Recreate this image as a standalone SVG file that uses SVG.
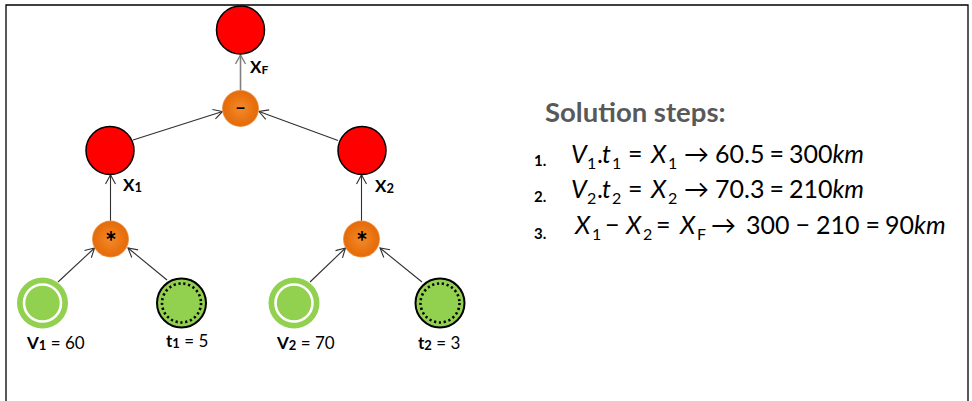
<svg xmlns="http://www.w3.org/2000/svg" width="972" height="401" viewBox="0 0 972 401">
<style>
.red{fill:#FF0000;stroke:#000;stroke-width:1.5}
.op{fill:url(#og)}
.gfill{fill:#92D050}
.ring{fill:none;stroke:#fff;stroke-width:2.6}
.tout{fill:#92D050;stroke:#000;stroke-width:2}
.dots{fill:none;stroke:#000;stroke-width:2.6;stroke-dasharray:2.2 2.7}
.lab{font-family:Lato,"Open Sans",sans-serif;font-size:17px;fill:#000}
.b{font-weight:bold}
.nl{font-family:Lato,"Open Sans",sans-serif;font-size:17px;font-weight:bold;fill:#000}
.sym{font-family:Lato,"Open Sans",sans-serif;font-weight:bold;fill:#000;text-anchor:middle}
.eq{font-family:Lato,"Open Sans",sans-serif;font-size:25px;fill:#000}
.i{font-style:italic}
.sub{font-size:16px}
.num{font-family:Lato,"Open Sans",sans-serif;font-size:15px;font-weight:bold;fill:#000}
.conn{stroke:#303030;stroke-width:1.1;fill:none;marker-end:url(#ah)}
.connv{stroke:#7f7f7f;stroke-width:1.6;fill:none;marker-end:url(#ahg)}
</style>
<defs>
<radialGradient id="og" cx="0.5" cy="0.5" r="0.5">
<stop offset="0" stop-color="#F58A2A"/>
<stop offset="0.75" stop-color="#E8700E"/>
<stop offset="0.92" stop-color="#E46C0A"/>
<stop offset="1" stop-color="#F0A060"/>
</radialGradient>
<marker id="ah" markerUnits="userSpaceOnUse" markerWidth="12" markerHeight="12" refX="10" refY="6" orient="auto" viewBox="0 0 12 12">
<path d="M1,1 L10,6 L1,11" fill="none" stroke="#303030" stroke-width="1.1"/>
</marker>
<marker id="ahg" markerUnits="userSpaceOnUse" markerWidth="12" markerHeight="12" refX="10" refY="6" orient="auto" viewBox="0 0 12 12">
<path d="M1,1 L10,6 L1,11" fill="none" stroke="#7f7f7f" stroke-width="1.4"/>
</marker>
</defs>
<rect width="972" height="401" fill="#fff"/>
<path d="M6,401 V5 H968 V401" fill="none" stroke="#000" stroke-width="1.3"/>

<g id="connectors">
<line class="connv" x1="240.5" y1="90" x2="240.5" y2="55"/>
<line class="conn" x1="133" y1="140" x2="222.5" y2="111.5"/>
<line class="conn" x1="338" y1="140.5" x2="259" y2="111.5"/>
<line class="conn" x1="110.5" y1="221" x2="110.5" y2="175"/>
<line class="conn" x1="361.5" y1="221" x2="361.5" y2="175"/>
<line class="conn" x1="58" y1="282" x2="94.5" y2="248"/>
<line class="conn" x1="167" y1="280" x2="128" y2="248"/>
<line class="conn" x1="310" y1="282" x2="345.5" y2="248"/>
<line class="conn" x1="422" y1="282" x2="380" y2="248"/>
</g>

<g id="xf">
<circle class="red" cx="240.5" cy="30" r="24"/>
<text class="nl" x="250" y="73">X<tspan font-size="12" dy="1">F</tspan></text>
</g>
<g id="minus">
<circle class="op" cx="240.5" cy="108.5" r="18.5"/>
<text class="sym" x="240.5" y="114" font-size="19">–</text>
</g>
<g id="x1">
<circle class="red" cx="110" cy="150.5" r="24"/>
<text class="nl" x="123" y="191">X<tspan font-size="13" dy="1">1</tspan></text>
</g>
<g id="x2">
<circle class="red" cx="362" cy="150.5" r="24"/>
<text class="nl" x="375" y="192">X<tspan font-size="13" dy="1">2</tspan></text>
</g>
<g id="mul1">
<circle class="op" cx="110.5" cy="239" r="18.5"/>
<text class="sym" x="111" y="252" font-size="28">*</text>
</g>
<g id="mul2">
<circle class="op" cx="361.5" cy="239" r="18.5"/>
<text class="sym" x="362" y="252" font-size="28">*</text>
</g>
<g id="v1">
<circle class="gfill" cx="42.5" cy="303" r="25.5"/>
<circle class="ring" cx="42.5" cy="303" r="18.5"/>
<text class="lab" x="27" y="349"><tspan class="b">V</tspan><tspan class="b" font-size="13" dy="1">1</tspan><tspan dy="-1"> = 60</tspan></text>
</g>
<g id="t1">
<circle class="tout" cx="181.5" cy="303" r="24.5"/>
<circle class="dots" cx="181.5" cy="303" r="19.5"/>
<text class="lab" x="166" y="347"><tspan class="b">t</tspan><tspan class="b" font-size="13" dy="1">1</tspan><tspan dy="-1"> = 5</tspan></text>
</g>
<g id="v2">
<circle class="gfill" cx="294" cy="303" r="25.5"/>
<circle class="ring" cx="294" cy="303" r="18.5"/>
<text class="lab" x="277" y="349"><tspan class="b">V</tspan><tspan class="b" font-size="13" dy="1">2</tspan><tspan dy="-1"> = 70</tspan></text>
</g>
<g id="t2">
<circle class="tout" cx="440" cy="303" r="24.5"/>
<circle class="dots" cx="440" cy="303" r="19.5"/>
<text class="lab" x="418" y="349"><tspan class="b">t</tspan><tspan class="b" font-size="13" dy="1">2</tspan><tspan dy="-1"> = 3</tspan></text>
</g>

<g id="solution">
<text x="545" y="122" font-family="Lato,'Open Sans',sans-serif" font-size="27.5" font-weight="bold" fill="#595959">Solution steps:</text>
<text class="num" x="534" y="166">1.</text>
<text class="num" x="534" y="202">2.</text>
<text class="num" x="534" y="239">3.</text>
<text class="eq" y="163"><tspan class="i" x="571">V</tspan><tspan class="sub" x="587" dy="6">1</tspan><tspan x="597" dy="-6">.</tspan><tspan class="i" x="602">t</tspan><tspan class="sub" x="612" dy="6">1</tspan><tspan x="628" dy="-6">=</tspan><tspan class="i" x="651">X</tspan><tspan class="sub" x="668" dy="6">1</tspan><tspan x="684" dy="-6">→</tspan><tspan x="715">60.5</tspan><tspan dx="5">=</tspan><tspan dx="5">300</tspan><tspan class="i">km</tspan></text>
<text class="eq" y="198"><tspan class="i" x="571">V</tspan><tspan class="sub" x="587" dy="6">2</tspan><tspan x="597" dy="-6">.</tspan><tspan class="i" x="602">t</tspan><tspan class="sub" x="612" dy="6">2</tspan><tspan x="628" dy="-6">=</tspan><tspan class="i" x="651">X</tspan><tspan class="sub" x="668" dy="6">2</tspan><tspan x="684" dy="-6">→</tspan><tspan x="715">70.3</tspan><tspan dx="5">=</tspan><tspan dx="5">210</tspan><tspan class="i">km</tspan></text>
<text class="eq" y="234"><tspan class="i" x="575">X</tspan><tspan class="sub" x="592" dy="6">1</tspan><tspan x="605" dy="-6">−</tspan><tspan class="i" x="626">X</tspan><tspan class="sub" x="643" dy="6">2</tspan><tspan x="656" dy="-6">=</tspan><tspan class="i" x="680">X</tspan><tspan class="sub" x="697" dy="6" font-size="12">F</tspan><tspan x="711" dy="-6">→</tspan><tspan x="746">300</tspan><tspan dx="6">−</tspan><tspan dx="6">210</tspan><tspan dx="6">=</tspan><tspan dx="5">90</tspan><tspan class="i">km</tspan></text>
</g>
</svg>
